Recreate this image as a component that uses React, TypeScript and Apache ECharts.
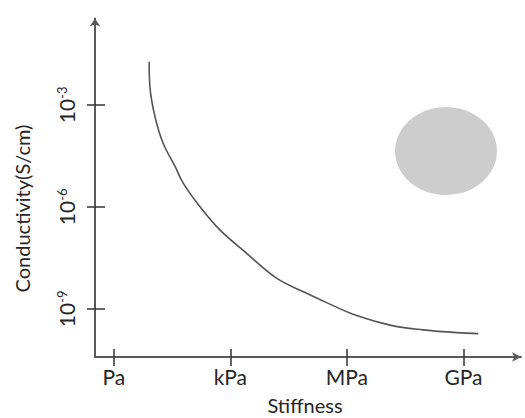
import React, { useEffect, useRef } from "react";
import * as echarts from "echarts";

// log10(stiffness / Pa)
const xTickValues = [0, 3, 6, 9];
const xTickLabels = ["Pa", "kPa", "MPa", "GPa"];
// log10(conductivity / (S/cm))
const yTickExponents = [-9, -6, -3];

const curveX = [0.91, 0.93, 1.06, 1.27, 1.58, 1.79, 2.22, 2.73, 3.42, 4.19, 4.88, 5.52, 6.25, 7.11, 7.96, 8.82, 9.38];
const curveY = [-1.73, -2.47, -3.35, -4.13, -4.82, -5.31, -6.0, -6.68, -7.37, -8.1, -8.5, -8.84, -9.2, -9.48, -9.62, -9.7, -9.73];

const regionX = [8.55];
const regionY = [-4.36];

const FONT = "Lato";
const TEXT = "#262626";
const AXIS = "#5a5a5a";

export default function App() {
  const ref = useRef<HTMLDivElement>(null);
  useEffect(() => {
    if (!ref.current) return;
    const chart = echarts.init(ref.current, null, { renderer: "svg" });
    const xMin = -0.484;
    const xMax = 10.48;
    const yMin = -10.418;
    const yMax = -0.46;
    chart.setOption({
      animation: false,
      backgroundColor: "#ffffff",
      grid: { left: 95, right: 4, top: 18.5, bottom: 61 },
      xAxis: [
        {
          type: "value",
          position: "bottom",
          min: xMin,
          max: xMax,
          splitLine: { show: false },
          axisLine: {
            show: true,
            onZero: false,
            symbol: ["none", "arrow"],
            symbolSize: [7, 9],
            lineStyle: { color: AXIS, width: 2 },
          },
          axisTick: {
            show: true,
            inside: false,
            length: 9,
            customValues: xTickValues,
            lineStyle: { color: "#333", width: 1.5 },
          },
          axisLabel: {
            show: true,
            customValues: xTickValues,
            margin: 9,
            fontFamily: FONT,
            fontSize: 21,
            color: TEXT,
            formatter: (v: number) => {
              const i = xTickValues.findIndex((t) => Math.abs(t - v) < 1e-6);
              return i >= 0 ? xTickLabels[i] : "";
            },
          },
        },
        {
          type: "value",
          position: "bottom",
          min: xMin,
          max: xMax,
          splitLine: { show: false },
          axisLine: { show: false, onZero: false },
          axisLabel: { show: false },
          axisTick: {
            show: true,
            inside: true,
            length: 8,
            customValues: xTickValues,
            lineStyle: { color: "#333", width: 1.5 },
          },
        },
      ],
      yAxis: [
        {
          type: "value",
          position: "left",
          min: yMin,
          max: yMax,
          splitLine: { show: false },
          axisLine: {
            show: true,
            onZero: false,
            symbol: ["none", "arrow"],
            symbolSize: [8, 8],
            lineStyle: { color: AXIS, width: 2 },
          },
          axisTick: {
            show: true,
            inside: false,
            length: 8,
            customValues: yTickExponents,
            lineStyle: { color: "#333", width: 1.5 },
          },
          axisLabel: {
            show: true,
            customValues: yTickExponents,
            rotate: 90,
            margin: 18,
            fontFamily: FONT,
            color: TEXT,
            formatter: (v: number) => `{b|10}{s|${Math.round(v)}}`,
            rich: {
              b: { fontFamily: FONT, fontSize: 21, color: TEXT, lineHeight: 22 },
              s: { fontFamily: FONT, fontSize: 13, color: TEXT, verticalAlign: "top", lineHeight: 22 },
            },
          },
        },
        {
          type: "value",
          position: "left",
          min: yMin,
          max: yMax,
          splitLine: { show: false },
          axisLine: { show: false, onZero: false },
          axisLabel: { show: false },
          axisTick: {
            show: true,
            inside: true,
            length: 10,
            customValues: yTickExponents,
            lineStyle: { color: "#333", width: 1.5 },
          },
        },
      ],
      series: [
        {
          type: "scatter",
          xAxisIndex: 0,
          yAxisIndex: 0,
          data: regionX.map((x, i) => [x, regionY[i]]),
          symbol: "circle",
          symbolSize: [102, 88],
          itemStyle: { color: "#c0c0c0" },
          silent: true,
          z: 1,
        },
        {
          type: "line",
          xAxisIndex: 0,
          yAxisIndex: 0,
          data: curveX.map((x, i) => [x, curveY[i]]),
          smooth: 0.4,
          showSymbol: false,
          symbol: "none",
          lineStyle: { color: "#555555", width: 1.6 },
          z: 2,
        },
      ],
      graphic: [
        {
          type: "text",
          x: 22,
          y: 208.5,
          rotation: Math.PI / 2,
          style: {
            text: "Conductivity(S/cm)",
            fontFamily: FONT,
            fontSize: 20,
            fill: TEXT,
            align: "center",
            verticalAlign: "middle",
          },
        },
        {
          type: "text",
          x: 305,
          y: 405,
          style: {
            text: "Stiffness",
            fontFamily: FONT,
            fontSize: 20,
            fill: TEXT,
            align: "center",
            verticalAlign: "middle",
          },
        },
      ],
    });
    return () => chart.dispose();
  }, []);
  return (
    <div
      ref={ref}
      style={{ position: "fixed", left: 0, top: 0, width: 525, height: 418, background: "#fff" }}
    />
  );
}
